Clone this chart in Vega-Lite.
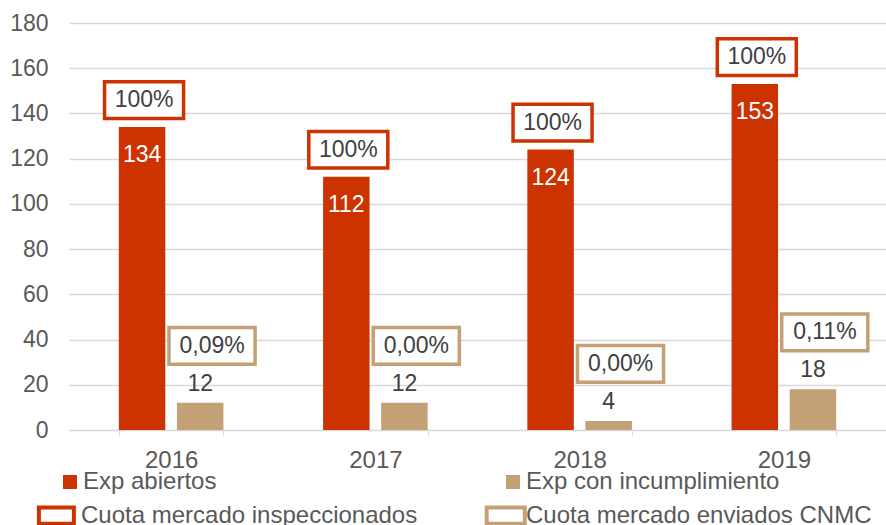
{
  "$schema": "https://vega.github.io/schema/vega-lite/v6.json",
  "width": 817,
  "height": 407,
  "autosize": {"type": "none"},
  "padding": {"left": 69, "top": 23, "right": 0, "bottom": 95},
  "background": "white",
  "config": {
    "view": {"stroke": null},
    "font": "Liberation Sans",
    "text": {"font": "Liberation Sans", "fontSize": 23},
    "axis": {"labelFont": "Liberation Sans", "labelFontSize": 23, "labelColor": "#595959", "title": null}
  },
  "data": {
    "values": [
      {"year": "2016", "grp": "a", "serie": "Exp abiertos", "value": 134, "cuota": "Cuota mercado inspeccionados", "pct": "100%"},
      {"year": "2016", "grp": "b", "serie": "Exp con incumplimiento", "value": 12, "cuota": "Cuota mercado enviados CNMC", "pct": "0,09%"},
      {"year": "2017", "grp": "a", "serie": "Exp abiertos", "value": 112, "cuota": "Cuota mercado inspeccionados", "pct": "100%"},
      {"year": "2017", "grp": "b", "serie": "Exp con incumplimiento", "value": 12, "cuota": "Cuota mercado enviados CNMC", "pct": "0,00%"},
      {"year": "2018", "grp": "a", "serie": "Exp abiertos", "value": 124, "cuota": "Cuota mercado inspeccionados", "pct": "100%"},
      {"year": "2018", "grp": "b", "serie": "Exp con incumplimiento", "value": 4, "cuota": "Cuota mercado enviados CNMC", "pct": "0,00%"},
      {"year": "2019", "grp": "a", "serie": "Exp abiertos", "value": 153, "cuota": "Cuota mercado inspeccionados", "pct": "100%"},
      {"year": "2019", "grp": "b", "serie": "Exp con incumplimiento", "value": 18, "cuota": "Cuota mercado enviados CNMC", "pct": "0,11%"}
    ]
  },
  "encoding": {
    "x": {
      "field": "year", "type": "nominal",
      "scale": {"paddingInner": 0.488, "paddingOuter": 0.244},
      "axis": {"labelAngle": 0, "tickBand": "extent", "domainColor": "#D9D9D9", "tickColor": "#D9D9D9", "tickSize": 6, "labelPadding": 12, "labelFontSize": 24, "grid": false}
    },
    "xOffset": {"field": "grp", "type": "nominal", "scale": {"paddingInner": 0.2}},
    "y": {
      "field": "value", "type": "quantitative",
      "scale": {"domain": [0, 180], "nice": false},
      "axis": {"values": [0, 20, 40, 60, 80, 100, 120, 140, 160, 180], "domain": false, "ticks": false, "labelPadding": 21, "gridColor": "#D9D9D9", "gridWidth": 1.3}
    }
  },
  "layer": [
    {
      "mark": {"type": "bar"},
      "encoding": {
        "color": {
          "field": "serie", "type": "nominal",
          "scale": {"domain": ["Exp abiertos", "Exp con incumplimiento"], "range": ["#CC3300", "#C4A077"]},
          "legend": {
            "orient": "none", "legendX": -11, "legendY": 447, "columns": 2, "columnPadding": 284,
            "title": null, "symbolType": "square", "symbolSize": 196, "symbolStrokeWidth": 0,
            "labelFontSize": 24, "labelColor": "#595959", "labelFont": "Liberation Sans", "labelOffset": 1, "labelLimit": 600
          }
        }
      }
    },
    {
      "transform": [{"filter": "datum.grp == 'a'"}],
      "mark": {"type": "text", "color": "white", "dy": 28},
      "encoding": {"text": {"field": "value", "type": "quantitative"}}
    },
    {
      "transform": [{"filter": "datum.grp == 'b'"}],
      "mark": {"type": "text", "color": "#404040", "dy": -19},
      "encoding": {"text": {"field": "value", "type": "quantitative"}}
    },
    {
      "transform": [{"filter": "datum.grp == 'a'"}],
      "mark": {"type": "point", "filled": false, "fill": "white", "size": 6241, "strokeWidth": 3.5, "opacity": 1, "yOffset": -27},
      "encoding": {
        "stroke": {
          "field": "cuota", "type": "nominal",
          "scale": {"domain": ["Cuota mercado inspeccionados", "Cuota mercado enviados CNMC"], "range": ["#CC3300", "#C4A077"]},
          "legend": {
            "orient": "none", "legendX": -33, "legendY": 473, "columns": 2, "columnPadding": 60,
            "title": null, "symbolSize": 1225, "symbolStrokeWidth": 4, "symbolFillColor": "white",
            "labelFontSize": 24, "labelColor": "#595959", "labelFont": "Liberation Sans", "labelOffset": 6, "labelLimit": 600,
            "encoding": {"symbols": {"update": {"shape": {"value": "M-1,-0.465H1V0.465H-1Z"}}}}
          }
        },
        "shape": {
          "field": "cuota", "type": "nominal",
          "scale": {"domain": ["Cuota mercado inspeccionados", "Cuota mercado enviados CNMC"], "range": ["M-0.95,-0.465H1.05V0.465H-0.95Z", "M-0.79,-0.465H1.39V0.465H-0.79Z"]},
          "legend": {
            "orient": "none", "legendX": -33, "legendY": 473, "columns": 2, "columnPadding": 60,
            "title": null, "symbolSize": 1225, "symbolStrokeWidth": 4, "symbolFillColor": "white",
            "labelFontSize": 24, "labelColor": "#595959", "labelFont": "Liberation Sans", "labelOffset": 6, "labelLimit": 600,
            "encoding": {"symbols": {"update": {"shape": {"value": "M-1,-0.465H1V0.465H-1Z"}}}}
          }
        }
      }
    },
    {
      "transform": [{"filter": "datum.grp == 'b'"}],
      "mark": {"type": "point", "filled": false, "fill": "white", "size": 6241, "strokeWidth": 3.5, "opacity": 1, "yOffset": -57},
      "encoding": {
        "stroke": {"field": "cuota", "type": "nominal"},
        "shape": {"field": "cuota", "type": "nominal"}
      }
    },
    {
      "transform": [{"filter": "datum.grp == 'a'"}],
      "mark": {"type": "text", "color": "#404040", "dy": -27, "dx": 2, "fontSize": 23},
      "encoding": {"text": {"field": "pct"}}
    },
    {
      "transform": [{"filter": "datum.grp == 'b'"}],
      "mark": {"type": "text", "color": "#404040", "dy": -57, "dx": 12, "fontSize": 23},
      "encoding": {"text": {"field": "pct"}}
    }
  ]
}
